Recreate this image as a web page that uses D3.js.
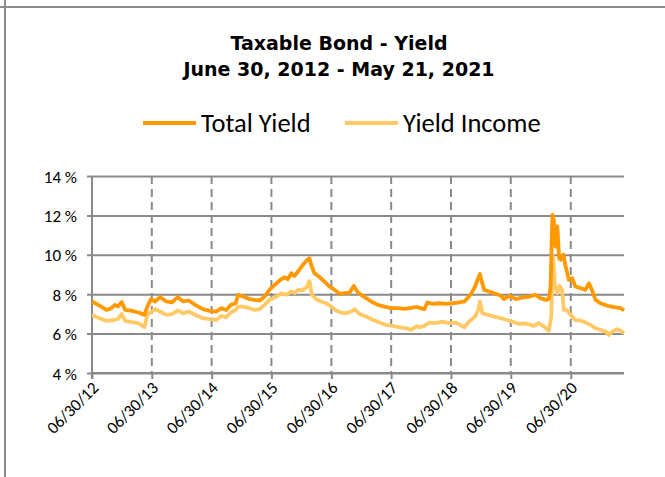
<!DOCTYPE html>
<html>
<head>
<meta charset="utf-8">
<script src="https://cdn.jsdelivr.net/npm/d3@7"></script>
<style>
  html, body { margin: 0; padding: 0; background: #fff; }
  svg { display: block; }
</style>
</head>
<body>
<svg id="chart" width="665" height="477"></svg>
<script>
// ---------------- DATA ----------------
const titleLines = ["Taxable Bond - Yield", "June 30, 2012 - May 21, 2021"];
const seriesNames = ["Total Yield", "Yield Income"];
const seriesColors = ["#FF9900", "#FFC966"];

const yTicks = [4, 6, 8, 10, 12, 14];
const xTickDates = ["2012-06-30","2013-06-30","2014-06-30","2015-06-30","2016-06-30",
                    "2017-06-30","2018-06-30","2019-06-30","2020-06-30"];
const xTickLabels = ["06/30/12","06/30/13","06/30/14","06/30/15","06/30/16",
                     "06/30/17","06/30/18","06/30/19","06/30/20"];

const totalDates = [
 "2012-06-30","2012-08-07","2012-09-27","2012-10-26","2012-11-17","2012-12-05","2012-12-28",
 "2013-01-19","2013-02-28","2013-04-09","2013-05-16","2013-06-03","2013-06-25","2013-07-20",
 "2013-08-19","2013-09-27","2013-10-30","2013-12-06",
 "2014-01-08","2014-02-10","2014-03-22","2014-04-09","2014-05-08","2014-06-18","2014-07-28",
 "2014-08-29","2014-09-27","2014-10-26","2014-11-24","2014-12-09",
 "2015-01-08","2015-02-17","2015-03-18","2015-04-20","2015-05-19","2015-06-18","2015-07-31",
 "2015-08-29","2015-09-20","2015-10-08","2015-10-30","2015-11-18","2015-12-09",
 "2016-01-08","2016-01-30","2016-02-17","2016-02-28","2016-03-18","2016-04-20","2016-05-19",
 "2016-06-18","2016-07-20","2016-08-19","2016-09-16","2016-10-19","2016-11-14","2016-12-09",
 "2017-01-19","2017-02-28","2017-04-09","2017-05-19","2017-06-29","2017-08-11","2017-09-20",
 "2017-10-30","2017-12-02",
 "2018-01-19","2018-02-06","2018-03-10","2018-04-20","2018-05-30","2018-07-09","2018-08-19",
 "2018-09-20","2018-10-08","2018-11-03","2018-11-24","2018-12-09","2018-12-24",
 "2019-01-04","2019-01-19","2019-02-17","2019-03-29","2019-05-01","2019-05-19","2019-06-21",
 "2019-07-31","2019-08-29","2019-09-27","2019-10-26","2019-11-28","2019-12-28",
 "2020-01-30","2020-02-17","2020-02-28","2020-03-10","2020-03-18","2020-03-29","2020-04-09",
 "2020-04-20","2020-05-01","2020-05-16","2020-05-30","2020-06-18","2020-07-09","2020-07-28",
 "2020-08-29","2020-09-27","2020-10-19","2020-11-10","2020-11-28","2020-12-28",
 "2021-02-10","2021-03-22","2021-05-01","2021-05-21"
];
const totalYield = [
 7.63,7.46,7.20,7.29,7.46,7.37,7.60,
 7.20,7.15,7.07,6.95,7.37,7.75,7.63,
 7.85,7.63,7.58,7.85,
 7.63,7.68,7.46,7.37,7.24,7.15,7.12,
 7.29,7.20,7.46,7.54,7.97,
 7.88,7.75,7.71,7.68,7.88,8.22,8.56,
 8.76,8.86,8.76,9.07,8.93,9.15,
 9.49,9.70,9.83,9.49,9.07,8.86,8.64,
 8.39,8.22,8.02,8.05,8.08,8.42,8.08,
 7.85,7.63,7.46,7.37,7.29,7.29,7.25,
 7.30,7.35,
 7.24,7.58,7.51,7.54,7.51,7.54,7.58,
 7.63,7.80,8.05,8.39,8.73,9.03,
 8.64,8.22,8.14,8.02,7.92,7.75,7.92,
 7.75,7.82,7.85,7.88,7.97,7.80,
 7.71,7.75,8.39,12.03,11.78,10.42,11.44,
 9.83,9.75,10.00,9.41,8.73,8.81,8.39,
 8.31,8.22,8.56,8.14,7.71,7.54,
 7.41,7.34,7.29,7.17
];

const incomeDates = [
 "2012-06-30","2012-08-07","2012-09-27","2012-11-10","2012-12-05","2012-12-28",
 "2013-01-19","2013-02-28","2013-04-09","2013-05-16","2013-06-03","2013-06-25","2013-07-20",
 "2013-08-19","2013-09-27","2013-10-30","2013-12-06",
 "2014-01-08","2014-02-10","2014-03-22","2014-04-09","2014-05-08","2014-06-18","2014-07-28",
 "2014-08-29","2014-09-27","2014-10-26","2014-11-24","2014-12-09",
 "2015-01-08","2015-02-17","2015-03-18","2015-04-20","2015-05-19","2015-06-18","2015-07-31",
 "2015-08-29","2015-09-27","2015-10-30","2015-11-18","2015-12-09",
 "2016-01-08","2016-01-30","2016-02-17","2016-03-03","2016-03-29","2016-04-27","2016-05-30",
 "2016-06-29","2016-07-28","2016-08-29","2016-09-27","2016-10-30","2016-11-18","2016-12-20",
 "2017-01-30","2017-03-10","2017-04-20","2017-05-30","2017-07-09","2017-08-19","2017-10-01",
 "2017-10-30","2017-12-02","2017-12-16",
 "2018-01-19","2018-02-17","2018-03-29","2018-05-08","2018-06-18","2018-07-31","2018-09-20",
 "2018-10-19","2018-11-24","2018-12-13","2018-12-24",
 "2019-01-08","2019-02-10","2019-03-22","2019-05-01","2019-06-10","2019-07-09","2019-08-22",
 "2019-09-13","2019-10-08","2019-11-18","2019-12-16",
 "2020-01-19","2020-02-17","2020-03-03","2020-03-14","2020-03-25","2020-04-09","2020-04-23",
 "2020-05-08","2020-05-19","2020-06-06","2020-06-29","2020-07-28","2020-08-29","2020-09-27",
 "2020-10-30","2020-11-28","2020-12-28",
 "2021-01-30","2021-02-17","2021-03-10","2021-04-09","2021-05-01","2021-05-21"
];
const yieldIncome = [
 6.95,6.81,6.64,6.69,6.73,6.99,
 6.64,6.58,6.53,6.32,6.95,7.12,7.24,
 7.12,6.95,6.99,7.17,
 7.03,7.12,6.95,6.88,6.78,6.73,6.69,
 6.90,6.83,7.07,7.20,7.37,
 7.37,7.29,7.20,7.24,7.46,7.71,7.88,
 8.05,7.97,8.14,8.05,8.22,
 8.20,8.35,8.66,7.97,7.75,7.63,7.54,
 7.37,7.17,7.07,7.03,7.12,7.24,6.99,
 6.86,6.69,6.56,6.44,6.39,6.32,6.27,
 6.19,6.38,6.32,
 6.39,6.56,6.53,6.61,6.53,6.56,6.32,
 6.61,6.86,7.20,7.63,
 7.03,6.95,6.86,6.78,6.69,6.61,6.49,
 6.52,6.49,6.39,6.53,
 6.36,6.14,6.86,9.92,8.47,8.05,8.42,
 8.22,7.20,7.20,6.95,6.69,6.66,6.56,
 6.44,6.27,6.19,
 6.10,5.93,6.10,6.22,6.15,6.02
];

// ---------------- CHART ----------------
const parse = d3.timeParse("%Y-%m-%d");
const svg = d3.select("#chart");

const plot = { left: 92, right: 624, top: 176, bottom: 373 };
const x = d3.scaleTime()
  .domain([parse("2012-06-30"), parse("2021-05-21")])
  .range([plot.left, plot.right]);
const y = d3.scaleLinear().domain([4, 14]).range([plot.bottom, plot.top]);

const gridColor = "#8a8a8a";
const labelFont = "Carlito, Calibri, Lato, 'Liberation Sans', sans-serif";

// Outer sheet borders
svg.append("line").attr("x1", 0).attr("x2", 665).attr("y1", 7).attr("y2", 7)
  .attr("stroke", "#8c8c8c").attr("stroke-width", 2);
svg.append("line").attr("x1", 5).attr("x2", 5).attr("y1", 0).attr("y2", 477)
  .attr("stroke", "#8c8c8c").attr("stroke-width", 2);

// Title
svg.append("g").selectAll("text").data(titleLines).join("text")
  .attr("x", 339).attr("y", (d, i) => 50 + i * 26)
  .attr("text-anchor", "middle")
  .attr("font-family", "'DejaVu Sans', Verdana, sans-serif")
  .attr("font-weight", "bold")
  .attr("font-size", 19)
  .attr("fill", "#000")
  .text(d => d);

// Legend
const legendX = [143, 345];
const lg = svg.append("g").selectAll("g").data(seriesNames).join("g")
  .attr("transform", (d, i) => `translate(${legendX[i]},123)`);
lg.append("line").attr("x1", 0).attr("x2", 53).attr("y1", 0).attr("y2", 0)
  .attr("stroke", (d, i) => seriesColors[i]).attr("stroke-width", 4);
lg.append("text").attr("x", 58).attr("y", 9)
  .attr("font-family", labelFont).attr("font-size", 26.5).attr("fill", "#000")
  .text(d => d);

// Horizontal gridlines (y axis)
const yAxis = d3.axisLeft(y).tickValues(yTicks)
  .tickSize(-(plot.right - plot.left)).tickPadding(0)
  .tickFormat(d => d + " %");
const gy = svg.append("g").attr("transform", `translate(${plot.left},0)`).call(yAxis);
gy.select(".domain").remove();
gy.selectAll(".tick line").attr("stroke", gridColor).attr("stroke-width", 2)
  .attr("x1", -5);
gy.selectAll(".tick text").attr("x", -15).attr("dy", "0.36em")
  .attr("font-family", labelFont).attr("font-size", 17).attr("fill", "#000");

// Vertical dashed gridlines
svg.append("g").selectAll("line").data(xTickDates.slice(1)).join("line")
  .attr("x1", d => x(parse(d))).attr("x2", d => x(parse(d)))
  .attr("y1", plot.top).attr("y2", plot.bottom)
  .attr("stroke", gridColor).attr("stroke-width", 2)
  .attr("stroke-dasharray", "8,5");

// Left axis line
svg.append("line").attr("x1", plot.left).attr("x2", plot.left)
  .attr("y1", plot.top).attr("y2", plot.bottom + 6)
  .attr("stroke", gridColor).attr("stroke-width", 2);

// X axis
const xAxis = d3.axisBottom(x)
  .tickValues(xTickDates.map(parse))
  .tickSize(6)
  .tickFormat((d, i) => xTickLabels[i]);
const gx = svg.append("g").attr("transform", `translate(0,${plot.bottom})`).call(xAxis);
gx.select(".domain").attr("stroke", gridColor).attr("stroke-width", 2)
  .attr("d", `M${plot.left},0H${plot.right}`);
gx.selectAll(".tick line").attr("stroke", gridColor).attr("stroke-width", 2);
gx.selectAll(".tick text")
  .attr("font-family", labelFont).attr("font-size", 17).attr("fill", "#000")
  .attr("text-anchor", "end")
  .attr("dy", null).attr("y", 0)
  .attr("transform", "translate(7,16) rotate(-45)");

// Lines
const lineGen = d3.line().x(d => x(d[0])).y(d => y(d[1]));
const income = incomeDates.map((d, i) => [parse(d), yieldIncome[i]]);
const total = totalDates.map((d, i) => [parse(d), totalYield[i]]);

svg.append("path").datum(income)
  .attr("fill", "none").attr("stroke", seriesColors[1]).attr("stroke-width", 3.8)
  .attr("stroke-linejoin", "round").attr("d", lineGen);
svg.append("path").datum(total)
  .attr("fill", "none").attr("stroke", seriesColors[0]).attr("stroke-width", 3.8)
  .attr("stroke-linejoin", "round").attr("d", lineGen);
</script>
</body>
</html>
